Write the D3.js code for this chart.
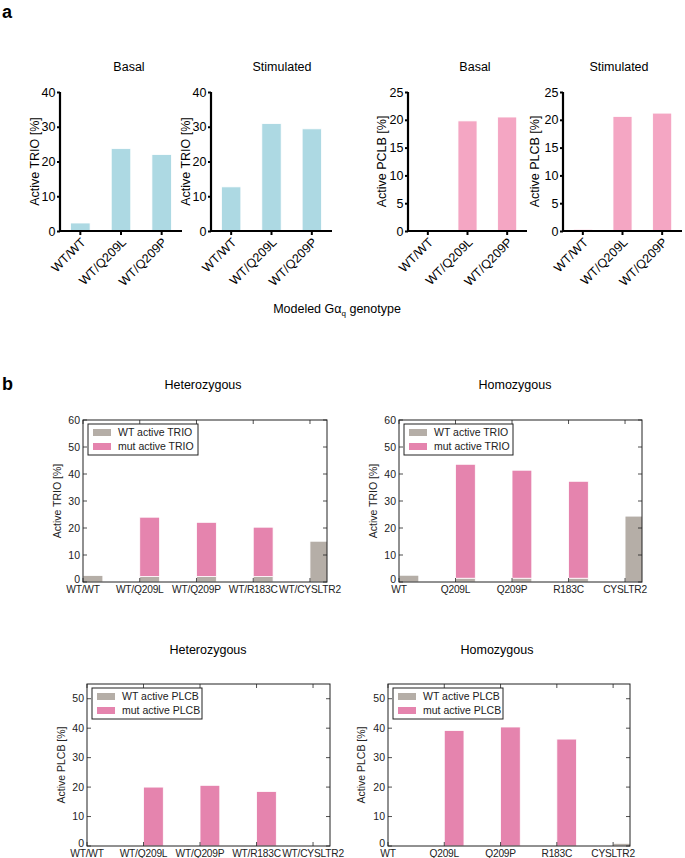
<!DOCTYPE html>
<html>
<head>
<meta charset="utf-8">
<script src="https://cdn.jsdelivr.net/npm/d3@7"></script>
<style>
  html, body { margin: 0; padding: 0; background: #fff; }
  svg { display: block; font-family: "Liberation Sans", Arial, sans-serif; }
</style>
</head>
<body>
<svg id="chart" width="685" height="858"></svg>
<script>
// ---------- Panel a data ----------
const aCats = ["WT/WT", "WT/Q209L", "WT/Q209P"];
const trioBasal = [2.3, 23.7, 22.0];
const trioStim = [12.7, 30.9, 29.4];
const plcbBasal = [0, 19.8, 20.5];
const plcbStim = [0.3, 20.6, 21.2];
const trioTicksA = [0, 10, 20, 30, 40];
const plcbTicksA = [0, 5, 10, 15, 20, 25];

// ---------- Panel b data ----------
const hetCats = ["WT/WT", "WT/Q209L", "WT/Q209P", "WT/R183C", "WT/CYSLTR2"];
const homCats = ["WT", "Q209L", "Q209P", "R183C", "CYSLTR2"];
const hetTrioWT = [2.4, 2.0, 2.0, 2.0, 15.1];
const hetTrioMut = [0, 22.0, 20.1, 18.3, 0];
const homTrioWT = [2.5, 1.4, 1.4, 1.4, 24.4];
const homTrioMut = [0, 42.2, 40.0, 35.9, 0];
const hetPlcbWT = [0, 0, 0, 0, 0];
const hetPlcbMut = [0, 20.0, 20.6, 18.5, 0];
const homPlcbWT = [0, 0, 0, 0, 0.9];
const homPlcbMut = [0, 39.2, 40.4, 36.3, 0];
const trioTicksB = [0, 10, 20, 30, 40, 50, 60];
const plcbTicksB = [0, 10, 20, 30, 40, 50];

const svg = d3.select("#chart");
const FONT = "'Liberation Sans', Arial, sans-serif";

// panel letters
svg.append("text").attr("x", 2).attr("y", 18).attr("font-size", 18).attr("font-weight", "bold").text("a");
svg.append("text").attr("x", 2).attr("y", 390).attr("font-size", 18).attr("font-weight", "bold").text("b");

// ---------- Panel a ----------
function panelA(cfg) {
  const g = svg.append("g");
  const x = d3.scaleBand().domain(aCats).range([cfg.x0, cfg.x1]).paddingInner(0.52).paddingOuter(0.26);
  const y = d3.scaleLinear().domain([0, cfg.max]).range([231, 92]);
  g.selectAll("rect.bar").data(cfg.values).join("rect")
    .attr("x", (d, i) => x(aCats[i]))
    .attr("width", x.bandwidth())
    .attr("y", d => y(d))
    .attr("height", d => y(0) - y(d))
    .attr("fill", cfg.color)
    .attr("stroke", "#fff").attr("stroke-width", 0.8);
  // y axis
  const ya = g.append("g").attr("transform", `translate(${cfg.x0},0)`)
    .call(d3.axisLeft(y).tickValues(cfg.ticks).tickSize(3).tickPadding(1.5));
  ya.select(".domain").attr("stroke-width", 2.2).attr("d", `M0,${y(cfg.max)}V${y(0)}`);
  ya.selectAll(".tick line").attr("stroke-width", 2);
  ya.selectAll(".tick text").attr("font-size", 12.5).attr("font-family", FONT).attr("fill", "#000");
  // x axis
  const xa = g.append("g").attr("transform", `translate(0,231)`)
    .call(d3.axisBottom(x).tickSize(4).tickSizeOuter(0));
  xa.select(".domain").attr("stroke-width", 2.2).attr("d", `M${cfg.x0 - 1},0H${cfg.x1}`);
  xa.selectAll(".tick line").attr("stroke-width", 2);
  xa.selectAll(".tick text")
    .attr("font-size", 12.5).attr("font-family", FONT).attr("fill", "#000")
    .attr("text-anchor", "end").attr("dy", null).attr("y", 0)
    .attr("transform", "translate(6,12) rotate(-45)");
  // labels
  g.append("text").attr("font-size", 12.5).attr("text-anchor", "middle")
    .attr("transform", `translate(${cfg.ylabX},${(y(0) + y(cfg.max)) / 2}) rotate(-90)`)
    .text(cfg.ylabel);
  g.append("text").attr("font-size", 12.5).attr("text-anchor", "middle")
    .attr("x", cfg.titleX).attr("y", 71).text(cfg.title);
}

panelA({x0: 60, x1: 182, max: 40, ticks: trioTicksA, values: trioBasal, color: "#add9e3",
        ylabel: "Active TRIO [%]", ylabX: 39, title: "Basal", titleX: 129});
panelA({x0: 211, x1: 332, max: 40, ticks: trioTicksA, values: trioStim, color: "#add9e3",
        ylabel: "Active TRIO [%]", ylabX: 190, title: "Stimulated", titleX: 282});
panelA({x0: 408, x1: 527, max: 25, ticks: plcbTicksA, values: plcbBasal, color: "#f4a6c3",
        ylabel: "Active PCLB [%]", ylabX: 386, title: "Basal", titleX: 475});
panelA({x0: 563, x1: 682, max: 25, ticks: plcbTicksA, values: plcbStim, color: "#f4a6c3",
        ylabel: "Active PLCB [%]", ylabX: 539, title: "Stimulated", titleX: 619});

// shared x label
const xl = svg.append("text").attr("font-size", 12.5).attr("text-anchor", "middle")
  .attr("x", 337).attr("y", 313);
xl.append("tspan").text("Modeled G\u03b1");
xl.append("tspan").attr("font-size", 8).attr("dy", 3).text("q");
xl.append("tspan").attr("dy", -3).text(" genotype");

// ---------- Panel b ----------
function panelB(cfg) {
  const g = svg.append("g");
  const W = 0.35, XMAX = 4.3;
  const x = d3.scaleLinear().domain([0, XMAX]).range([cfg.x0, cfg.x1]);
  const y = d3.scaleLinear().domain([0, cfg.max]).range([cfg.y1, cfg.y0]);
  const clipId = "clip" + cfg.id;
  g.append("clipPath").attr("id", clipId).append("rect")
    .attr("x", cfg.x0).attr("y", cfg.y0).attr("width", cfg.x1 - cfg.x0).attr("height", cfg.y1 - cfg.y0);
  const bars = g.append("g").attr("clip-path", `url(#${clipId})`);
  const idx = cfg.cats.map((c, i) => i);
  bars.selectAll("rect.wt").data(idx).join("rect").attr("class", "wt")
    .attr("x", i => x(i)).attr("width", x(W) - x(0))
    .attr("y", i => y(cfg.wt[i])).attr("height", i => y(0) - y(cfg.wt[i]))
    .attr("fill", "#b5aea7").attr("stroke", "#fff").attr("stroke-width", 0.8)
    .attr("display", i => cfg.wt[i] > 0 ? null : "none");
  bars.selectAll("rect.mut").data(idx).join("rect").attr("class", "mut")
    .attr("x", i => x(i)).attr("width", x(W) - x(0))
    .attr("y", i => y(cfg.wt[i] + cfg.mut[i])).attr("height", i => y(cfg.wt[i]) - y(cfg.wt[i] + cfg.mut[i]))
    .attr("fill", "#e584ae").attr("stroke", "#fff").attr("stroke-width", 0.8)
    .attr("display", i => cfg.mut[i] > 0 ? null : "none");

  // ticks inside on all sides
  const tk = g.append("g").attr("stroke", "#222").attr("stroke-width", 0.8);
  cfg.ticks.forEach(t => {
    tk.append("line").attr("x1", cfg.x0).attr("x2", cfg.x0 + 4).attr("y1", y(t)).attr("y2", y(t));
    tk.append("line").attr("x1", cfg.x1).attr("x2", cfg.x1 - 4).attr("y1", y(t)).attr("y2", y(t));
  });
  idx.forEach(i => {
    tk.append("line").attr("x1", x(i)).attr("x2", x(i)).attr("y1", cfg.y0).attr("y2", cfg.y0 + 4);
    tk.append("line").attr("x1", x(i)).attr("x2", x(i)).attr("y1", cfg.y1).attr("y2", cfg.y1 - 4);
  });
  // frame
  g.append("rect").attr("x", cfg.x0).attr("y", cfg.y0).attr("width", cfg.x1 - cfg.x0).attr("height", cfg.y1 - cfg.y0)
    .attr("fill", "none").attr("stroke", "#222").attr("stroke-width", 1);
  // tick labels
  g.selectAll("text.yt").data(cfg.ticks).join("text").attr("class", "yt")
    .attr("x", cfg.x0 - 3).attr("y", d => y(d)).attr("dy", d => d === 0 ? "0.1em" : "0.35em")
    .attr("text-anchor", "end").attr("font-size", 10.5).attr("fill", "#222").text(d => d);
  g.selectAll("text.xt").data(idx).join("text").attr("class", "xt")
    .attr("x", i => x(i)).attr("y", cfg.y1 + 11)
    .attr("text-anchor", "middle").attr("font-size", 10.2).attr("letter-spacing", -0.2)
    .attr("fill", "#222").text(i => cfg.cats[i]);
  // y label
  g.append("text").attr("font-size", 10.5).attr("text-anchor", "middle").attr("fill", "#222")
    .attr("transform", `translate(${cfg.ylabX},${(cfg.y0 + cfg.y1) / 2}) rotate(-90)`)
    .text(cfg.ylabel);
  // title
  g.append("text").attr("font-size", 12.5).attr("text-anchor", "middle")
    .attr("x", cfg.titleX).attr("y", cfg.titleY).text(cfg.title);
  // legend
  const lx = cfg.x0 + 5, ly = cfg.y0 + 4;
  const lg = g.append("g");
  lg.append("rect").attr("x", lx).attr("y", ly).attr("width", cfg.legW).attr("height", 31)
    .attr("fill", "#fff").attr("stroke", "#222").attr("stroke-width", 1);
  const items = [["WT active " + cfg.name, "#b5aea7"], ["mut active " + cfg.name, "#e584ae"]];
  items.forEach((it, k) => {
    const cy = ly + 8.5 + k * 14;
    lg.append("rect").attr("x", lx + 5).attr("y", cy - 3.5).attr("width", 18).attr("height", 7).attr("fill", it[1]);
    lg.append("text").attr("x", lx + 30).attr("y", cy).attr("dy", "0.35em")
      .attr("font-size", 10.5).attr("fill", "#222").text(it[0]);
  });
}

panelB({id: 1, x0: 83, x1: 327, y0: 420, y1: 582, max: 60, ticks: trioTicksB, cats: hetCats,
        wt: hetTrioWT, mut: hetTrioMut, name: "TRIO", ylabel: "Active TRIO [%]", ylabX: 61,
        title: "Heterozygous", titleX: 203, titleY: 389, legW: 110});
panelB({id: 2, x0: 399, x1: 642, y0: 420, y1: 582, max: 60, ticks: trioTicksB, cats: homCats,
        wt: homTrioWT, mut: homTrioMut, name: "TRIO", ylabel: "Active TRIO [%]", ylabX: 377,
        title: "Homozygous", titleX: 515, titleY: 389, legW: 109});
panelB({id: 3, x0: 87, x1: 330, y0: 684, y1: 846, max: 55, ticks: plcbTicksB, cats: hetCats,
        wt: hetPlcbWT, mut: hetPlcbMut, name: "PLCB", ylabel: "Active PLCB [%]", ylabX: 65,
        title: "Heterozygous", titleX: 208, titleY: 654, legW: 110});
panelB({id: 4, x0: 388, x1: 630, y0: 684, y1: 846, max: 55, ticks: plcbTicksB, cats: homCats,
        wt: homPlcbWT, mut: homPlcbMut, name: "PLCB", ylabel: "Active PLCB [%]", ylabX: 365,
        title: "Homozygous", titleX: 497, titleY: 654, legW: 110});
</script>
</body>
</html>
